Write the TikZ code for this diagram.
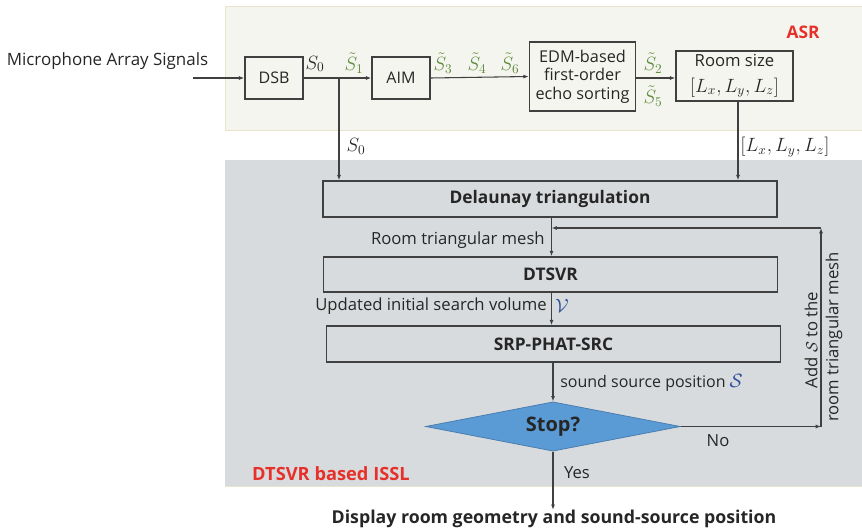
\documentclass[tikz,border=0pt]{standalone}
\usepackage{fontspec}
\setmainfont{Open Sans}
\usetikzlibrary{shapes.geometric,arrows.meta}
\definecolor{asrbg}{HTML}{F5F5EF}
\definecolor{asrline}{HTML}{E9E5CC}
\definecolor{graybg}{HTML}{D8DBDD}
\definecolor{boxline}{HTML}{404040}
\definecolor{sgreen}{HTML}{5E8C3A}
\definecolor{lred}{HTML}{E8302A}
\definecolor{dfill}{HTML}{5B9BD5}
\definecolor{dline}{HTML}{4A7EB0}
\definecolor{mblue}{HTML}{2E4F9A}
\definecolor{txt}{HTML}{262626}
\begin{document}
\begin{tikzpicture}[x=0.75pt,y=-0.75pt,
  every node/.style={text=txt,inner sep=0pt},
  blk/.style={draw=boxline,line width=1.1pt,fill=none,align=center,font=\fontsize{12}{14}\selectfont},
  wide/.style={draw=boxline,line width=1.1pt,font=\bfseries\fontsize{13}{15}\selectfont},
  lbl/.style={font=\fontsize{12.5}{14}\selectfont},
  mth/.style={font=\fontsize{14}{15}\selectfont},
  mlbl/.style={font=\fontsize{14}{15}\selectfont,text=sgreen},
  arr/.style={draw=boxline,line width=0.8pt,-{Latex[length=4pt,width=3pt]}},
  ln/.style={draw=boxline,line width=0.8pt}]
\useasboundingbox (0,0) rectangle (862,531);
% backgrounds
\fill[asrbg] (225,6) rectangle (862,130);
\draw[asrline,line width=0.6pt] (862,6) -- (225,6) -- (225,130) -- (862,130);
\fill[graybg] (225,160) rectangle (862,486);
\draw[asrline,line width=0.6pt] (862,486) -- (225,486);
% ASR part
\node[font=\fontsize{12.7}{14}\selectfont] (mic) at (107.5,61) {Microphone Array Signals};
\coordinate (micin) at (193,78);
\node[blk,minimum width=43.5pt,minimum height=31.5pt] (dsb) at (274,78) {DSB};
\node[blk,minimum width=43.5pt,minimum height=31.5pt] (aim) at (401,78) {AIM};
\node[blk,minimum width=79.5pt,minimum height=51.75pt,font=\fontsize{12.2}{14}\selectfont] (edm) at (582.5,76.5) {EDM-based\\first-order\\echo sorting};
\node[blk,minimum width=87.75pt,minimum height=37.5pt,font=\fontsize{12.5}{19}\selectfont] (room) at (734.5,76) {Room size\\\fontsize{14}{19}\selectfont$[L_x,L_y,L_z]$};
\node[font=\bfseries\fontsize{13}{15}\selectfont,text=lred] (asr) at (803,32) {ASR};
\coordinate (j0) at (339,78);
\coordinate (rx) at (738,0);
\draw[arr] (micin) -- (dsb.west);
\draw[arr] (dsb.east) -- (aim.west);
\draw[arr] (aim.east) -- (edm.west);
\draw[arr] (edm.east |- dsb) -- (room.west |- dsb);
\node[mth] (s0a) at (315,64) {$S_0$};
\node[mlbl] (s1) at (354,63) {$\tilde{S}_1$};
\node[mlbl] (s3) at (443,63) {$\tilde{S}_3$};
\node[mlbl] (s4) at (477,63) {$\tilde{S}_4$};
\node[mlbl] (s6) at (510,63) {$\tilde{S}_6$};
\node[mlbl] (s2) at (653,63) {$\tilde{S}_2$};
\node[mlbl] (s5) at (653,96) {$\tilde{S}_5$};
% DTSVR part
\node[wide,minimum width=340.5pt,minimum height=27pt] (del) at (550,199) {Delaunay triangulation};
\node[wide,minimum width=340.5pt,minimum height=26.25pt] (dts) at (550.5,274.5) {DTSVR};
\node[wide,minimum width=340.5pt,minimum height=27pt] (srp) at (553.5,344) {SRP-PHAT-SRC};
\node[draw=dline,fill=dfill,line width=0.6pt,shape=diamond,aspect=5.2,minimum width=191pt,minimum height=37pt,font=\bfseries\fontsize{15}{17}\selectfont] (stop) at (553,426.5) {Stop?};
\node[font=\bfseries\fontsize{13.3}{15}\selectfont] (disp) at (554,519) {Display room geometry and sound-source position};
\draw[arr] (j0) -- (j0 |- del.north);
\draw[arr] (room.south -| rx) -- (rx |- del.north);
\node[mth] (s0b) at (356,146) {$S_0$};
\node[mth] (lxyz) at (785,147) {$[L_x,L_y,L_z]$};
\coordinate (x1) at (551.5,0);
\draw[arr] (del.south -| x1) -- (dts.north -| x1);
\draw[arr] (dts.south -| x1) -- (srp.north -| x1);
\draw[arr] (srp.south -| stop) -- (stop.north);
\draw[arr] (stop.south) -- (disp.north -| stop);
\node[lbl,anchor=east] (rtm) at (545,240) {Room triangular mesh};
\node[lbl,anchor=east] (uisv) at (547,306) {Updated initial search volume};
\node[mth,text=mblue] (vv) at (562,306) {$\mathcal{V}$};
\node[font=\fontsize{12}{14}\selectfont,anchor=west] (ssp) at (560,383) {sound source position \textcolor{mblue}{\fontsize{14}{15}\selectfont$\mathcal{S}$}};
\node[lbl] (no) at (718,441) {No};
\node[lbl] (yes) at (577,473) {Yes};
\node[font=\bfseries\fontsize{13.7}{15}\selectfont,text=lred] (issl) at (331,474) {DTSVR based ISSL};
% feedback loop
\coordinate (fbr) at (821,426.5);
\coordinate (fbt) at (821,228);
\coordinate (fbl) at (551.5,228);
\draw[arr] (stop.east) -- (fbr);
\draw[arr] (fbr) -- (fbt);
\draw[arr] (fbt) -- (fbl);
\node[lbl,rotate=90] (add) at (811,340) {Add $\mathcal{S}$ to the};
\node[lbl,rotate=90] (rtm2) at (834,337) {room triangular mesh};
\end{tikzpicture}
\end{document}
